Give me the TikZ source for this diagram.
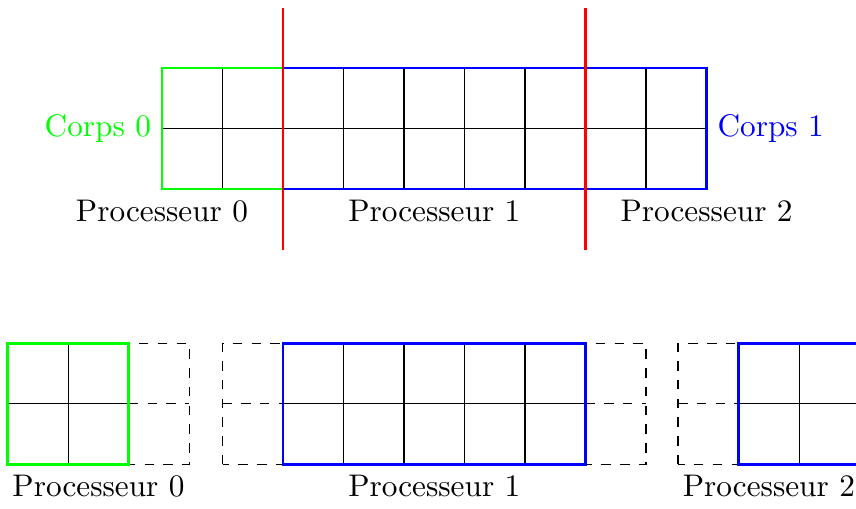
\documentclass[tikz,border=0pt]{standalone}
\usepackage{xcolor,tikz}
\definecolor{corpsvert}{HTML}{00FF00}
\definecolor{corpsbleu}{HTML}{0000FF}
\newcommand{\ghostcol}[1]{\draw[ghost] (#1,0) rectangle ++(1,2); \draw[ghost] (#1,1) -- ++(1,0);}

\begin{document}
\begin{tikzpicture}[x=0.68cm,y=0.68cm,
  maille/.style={xstep=0.68cm,ystep=0.68cm},
  vert/.style={corpsvert,thick},
  bleu/.style={corpsbleu,thick},
  coupe/.style={red,thick},
  ghost/.style={dashed}]
\useasboundingbox (-2.678,-5.273) rectangle (11.47,3.124);
% maillage global
\draw[maille] (0,0) grid (9,2);
\draw[vert] (0,0) rectangle (2,2);
\draw[bleu] (2,0) rectangle (9,2);
\draw[coupe] (2,-1) -- (2,3);
\draw[coupe] (7,-1) -- (7,3);
\node[corpsvert,left] (corps0) at (0,1) {Corps 0};
\node[corpsbleu,right] (corps1) at (9,1) {Corps 1};
\node[below] (proc0) at (0,0) {Processeur 0};
\node[below] (proc1) at (4.5,0) {Processeur 1};
\node[below] (proc2) at (9,0) {Processeur 2};
% sous-domaines
\begin{scope}[shift={(-2.55,-4.55)}]
\ghostcol{2}
\draw[maille] (0,0) grid (2,2);
\draw[vert] (0,0) rectangle (2,2);
\node[below] (sub0) at (1.5,0) {Processeur 0};
\end{scope}
\begin{scope}[shift={(1,-4.55)}]
\ghostcol{0}
\ghostcol{6}
\draw[maille] (1,0) grid (6,2);
\draw[bleu] (1,0) rectangle (6,2);
\node[below] (sub1) at (3.5,0) {Processeur 1};
\end{scope}
\begin{scope}[shift={(8.53,-4.55)}]
\ghostcol{0}
\draw[maille] (1,0) grid (3,2);
\draw[bleu] (1,0) rectangle (3,2);
\node[below] (sub2) at (1.5,0) {Processeur 2};
\end{scope}
\end{tikzpicture}
\end{document}
